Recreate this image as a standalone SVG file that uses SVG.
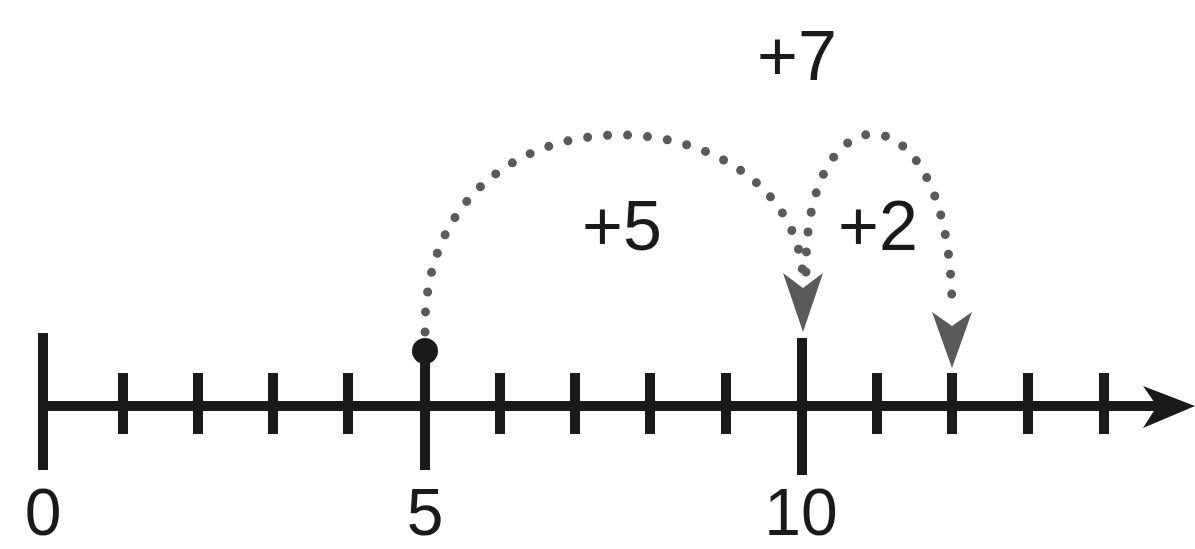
<svg xmlns="http://www.w3.org/2000/svg" width="1195" height="549" viewBox="0 0 1195 549">
<style>
.axis{stroke:#1a1a1a;stroke-width:10;fill:none}
.tick{stroke:#1a1a1a;stroke-width:10}
.dots{stroke:#5a5a5a;stroke-width:9;fill:none;stroke-linecap:round;stroke-dasharray:0 20}
.head{fill:#5a5a5a}
text{font-family:"Liberation Sans",Arial,sans-serif;font-size:70px;fill:#1a1a1a;text-anchor:middle}
.num{font-size:66px}
</style>
<rect width="1195" height="549" fill="#fff"/>
<g id="axis">
<line class="axis" x1="43" y1="406" x2="1160" y2="406"/>
<polygon fill="#1a1a1a" points="1195,406 1143,386 1157,406 1143,428"/>
<line class="tick" x1="43" y1="333" x2="43" y2="470"/>
<line class="tick" x1="123" y1="373" x2="123" y2="434"/>
<line class="tick" x1="198" y1="373" x2="198" y2="434"/>
<line class="tick" x1="273" y1="373" x2="273" y2="434"/>
<line class="tick" x1="348" y1="373" x2="348" y2="434"/>
<line class="tick" x1="425" y1="352" x2="425" y2="470"/>
<line class="tick" x1="500" y1="373" x2="500" y2="434"/>
<line class="tick" x1="575" y1="373" x2="575" y2="434"/>
<line class="tick" x1="650" y1="373" x2="650" y2="434"/>
<line class="tick" x1="726" y1="373" x2="726" y2="434"/>
<line class="tick" x1="802" y1="338" x2="802" y2="475"/>
<line class="tick" x1="877" y1="373" x2="877" y2="434"/>
<line class="tick" x1="952" y1="373" x2="952" y2="434"/>
<line class="tick" x1="1028" y1="373" x2="1028" y2="434"/>
<line class="tick" x1="1104" y1="373" x2="1104" y2="434"/>
<circle cx="425" cy="351" r="13" fill="#1a1a1a"/>
</g>
<g id="labels">
<text class="num" x="43" y="535">0</text>
<text class="num" x="425" y="535">5</text>
<text class="num" x="801" y="535">10</text>
</g>
<g id="connectors">
<path class="dots" d="M425,332 C422,70 790,88 803,276"/>
<polygon class="head" points="803,332 783,273 803,288 823,273"/>
<path class="dots" d="M806,272 C804,82 952,82 952,312"/>
<polygon class="head" points="952,368 932,312 952,326 972,312"/>
</g>
<g id="jump-labels">
<text x="622" y="250">+5</text>
<text x="878" y="250">+2</text>
<text x="797" y="80">+7</text>
</g>
</svg>
